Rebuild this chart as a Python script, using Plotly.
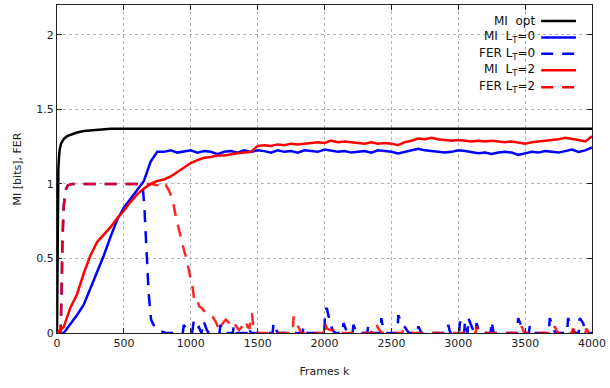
import plotly.graph_objects as go

# ---------------- data ----------------
opt_x = [0, 2, 5, 10, 15, 20, 30, 50, 75, 100, 150, 200, 300, 400, 1000, 2000, 3000, 4000]
opt_y = [0, 0.5, 0.9, 1.1, 1.18, 1.23, 1.27, 1.30, 1.32, 1.33, 1.345, 1.355, 1.365, 1.37, 1.37, 1.37, 1.37, 1.37]

frames = list(range(0, 4001, 50))

mi_lt0 = [0, 0, 0.06, 0.12, 0.19, 0.30, 0.41, 0.52, 0.645, 0.76, 0.84, 0.90, 0.955, 1.02, 1.15, 1.215,
          1.215, 1.225, 1.21, 1.22, 1.225, 1.21, 1.22, 1.215, 1.20, 1.215, 1.22, 1.21, 1.225, 1.215,
          1.225, 1.22, 1.21, 1.225, 1.215, 1.22, 1.21, 1.225, 1.22, 1.215, 1.23, 1.225, 1.215, 1.22,
          1.21, 1.215, 1.22, 1.21, 1.225, 1.22, 1.215, 1.205, 1.215, 1.225, 1.235, 1.225, 1.22, 1.215,
          1.21, 1.215, 1.225, 1.22, 1.21, 1.205, 1.21, 1.20, 1.21, 1.215, 1.21, 1.195, 1.205, 1.215,
          1.21, 1.22, 1.215, 1.21, 1.22, 1.23, 1.215, 1.225, 1.245]

mi_lt2 = [0, 0.04, 0.17, 0.26, 0.40, 0.52, 0.61, 0.66, 0.71, 0.77, 0.82, 0.88, 0.93, 0.97, 1.0, 1.02,
          1.03, 1.05, 1.08, 1.11, 1.14, 1.16, 1.175, 1.18, 1.19, 1.19, 1.20, 1.205, 1.21, 1.215,
          1.255, 1.26, 1.255, 1.265, 1.26, 1.27, 1.265, 1.27, 1.275, 1.28, 1.275, 1.29, 1.28, 1.285,
          1.28, 1.275, 1.27, 1.28, 1.27, 1.275, 1.27, 1.26, 1.28, 1.29, 1.305, 1.30, 1.31, 1.30,
          1.295, 1.29, 1.295, 1.29, 1.285, 1.29, 1.285, 1.29, 1.285, 1.28, 1.285, 1.275, 1.27, 1.28,
          1.285, 1.29, 1.29, 1.30, 1.31, 1.305, 1.295, 1.285, 1.32]

fer_lt0_x = [0, 27, 35, 40, 50, 65, 80, 115, 600, 640, 653, 670, 685, 703, 730, 752, 815, 940,
             948, 975, 1010, 1022, 1045, 1060, 1080, 1097, 1120, 1135, 1215, 1222, 1250, 1315, 1321,
             1345, 1425, 1433, 1450, 1612, 1619, 1650, 1836, 1843, 1865, 1998, 2005, 2017, 2042,
             2060, 2080, 2135, 2142, 2170, 2210, 2216, 2240, 2320, 2328, 2350, 2418, 2425, 2440,
             2460, 2545, 2552, 2575, 2600, 2630, 2695, 2701, 2725, 2918, 2925, 2940, 3006, 3013,
             3030, 3044, 3050, 3065, 3070, 3075, 3100, 3120, 3130, 3137, 3160, 3242, 3249, 3265,
             3440, 3448, 3470, 3490, 3528, 3535, 3555, 3677, 3684, 3705, 3725, 3814, 3821, 3845,
             3865, 3901, 3908, 3933, 3955, 4000]
fer_lt0_y = [0, 0, 0.3, 0.6, 0.85, 0.96, 0.99, 1.0, 1.0, 0.99, 0.85, 0.51, 0.27, 0.09, 0.04, 0.02, 0, 0,
             0.055, 0.01, 0, 0.078, 0.03, 0.04, 0, 0.078, 0.02, 0, 0, 0.055, 0, 0, 0.05,
             0, 0, 0.04, 0, 0, 0.067, 0, 0, 0.045, 0, 0, 0.156, 0.167, 0.067,
             0.02, 0, 0, 0.067, 0, 0, 0.055, 0, 0, 0.055, 0, 0, 0.1, 0.02,
             0, 0, 0.12, 0.07, 0.04, 0, 0, 0.045, 0, 0, 0.055, 0, 0, 0.078,
             0, 0, 0.078, 0.03, 0, 0.1, 0.05, 0, 0, 0.067, 0, 0, 0.078, 0,
             0, 0.1, 0.05, 0, 0, 0.045, 0, 0, 0.1, 0.05, 0, 0, 0.1, 0.05,
             0, 0, 0.1, 0.067, 0, 0]

fer_lt2_x = [0, 27, 35, 40, 50, 65, 80, 115, 700, 760, 790, 815, 840, 865, 889, 910, 927, 945, 964,
             985, 1002, 1015, 1026, 1045, 1063, 1090, 1113, 1140, 1163, 1190, 1212, 1235, 1262, 1285,
             1312, 1335, 1361, 1390, 1411, 1425, 1440, 1449, 1458, 1470, 1490, 1762, 1769, 1790,
             1806, 1825, 1993, 2000, 2020, 2040, 2067, 2090, 2380, 2388, 2410, 2430, 2580, 2590,
             2610, 3130, 3137, 3160, 3466, 3473, 3495, 3714, 3721, 3745, 3851, 3858, 3875, 3951,
             3958, 3975, 4000]
fer_lt2_y = [0, 0, 0.3, 0.6, 0.85, 0.96, 0.99, 1.0, 1.0, 0.99, 0.97, 0.99, 0.95, 0.89, 0.78, 0.70, 0.62, 0.57, 0.51,
             0.42, 0.36, 0.30, 0.22, 0.23, 0.18, 0.16, 0.134, 0.12, 0.11, 0.07, 0.02, 0.06, 0.09, 0.07,
             0.09, 0.05, 0.02, 0.05, 0.08, 0.04, 0.03, 0.12, 0.13, 0.02, 0, 0, 0.11, 0.05,
             0.04, 0, 0, 0.067, 0.03, 0.02, 0.02, 0, 0, 0.055, 0.02, 0, 0, 0.02,
             0, 0, 0.045, 0, 0, 0.045, 0, 0, 0.045, 0, 0, 0.03, 0, 0,
             0.03, 0, 0]

x_ticks = [0, 500, 1000, 1500, 2000, 2500, 3000, 3500, 4000]
y_ticks = [0, 0.5, 1, 1.5, 2]

legend_labels = ["MI\u00a0\u00a0opt", "MI\u00a0\u00a0L<sub>T</sub>=0", "FER L<sub>T</sub>=0",
                 "MI\u00a0\u00a0L<sub>T</sub>=2", "FER L<sub>T</sub>=2"]

BLACK = "#000000"
BLUE = "#0000ff"
RED = "#ff0000"
DASH = "12px,9px"
FONT = "DejaVu Sans"

fig = go.Figure()
fig.add_trace(go.Scatter(x=opt_x, y=opt_y, mode="lines", line=dict(color=BLACK, width=2.5)))
fig.add_trace(go.Scatter(x=frames, y=mi_lt0, mode="lines", line=dict(color=BLUE, width=2.5)))
fig.add_trace(go.Scatter(x=fer_lt0_x, y=fer_lt0_y, mode="lines", line=dict(color=BLUE, width=2.5, dash=DASH)))
fig.add_trace(go.Scatter(x=frames, y=mi_lt2, mode="lines", line=dict(color=RED, width=2.5)))
fig.add_trace(go.Scatter(x=fer_lt2_x, y=fer_lt2_y, mode="lines", opacity=0.85,
                         line=dict(color=RED, width=2.5, dash=DASH)))

# gnuplot-style key: text right-aligned, line sample to its right
styles = [(BLACK, "solid"), (BLUE, "solid"), (BLUE, DASH), (RED, "solid"), (RED, DASH)]
row_px = [20, 36.5, 53, 69.5, 86.5]
top_px, bot_px = 4, 333
for lab, (col, dsh), py in zip(legend_labels, styles, row_px):
    yp = (bot_px - py) / (bot_px - top_px)
    fig.add_annotation(x=0.897, y=yp, xref="paper", yref="paper", text=lab, showarrow=False,
                       xanchor="right", yanchor="middle",
                       font=dict(family=FONT, size=12, color="#111"))
    fig.add_shape(type="line", xref="paper", yref="paper", x0=0.905, x1=0.970, y0=yp, y1=yp,
                  line=dict(color=col, width=2.5, dash=dsh))

axis_common = dict(showline=True, linecolor="#222", linewidth=1, mirror="ticks",
                   ticks="inside", ticklen=5, tickcolor="#222", showgrid=True,
                   gridcolor="#b4b4b4", griddash="dot", gridwidth=1, zeroline=False,
                   tickfont=dict(family=FONT, size=11, color="#222"))

fig.update_layout(
    width=610, height=388,
    margin=dict(l=57, r=16, t=4, b=55),
    paper_bgcolor="white", plot_bgcolor="white",
    showlegend=False,
    xaxis=dict(range=[0, 4000], tickvals=x_ticks, ticktext=[str(v) for v in x_ticks],
               title=dict(text="Frames k", font=dict(family=FONT, size=11, color="#222"),
                          standoff=18),
               **axis_common),
    yaxis=dict(range=[0, 2.2], tickvals=y_ticks, ticktext=["0", "0.5", "1", "1.5", "2"],
               title=dict(text="MI [bits], FER", font=dict(family=FONT, size=11, color="#222"),
                          standoff=12),
               **axis_common),
)

fig.write_html("out.html")
